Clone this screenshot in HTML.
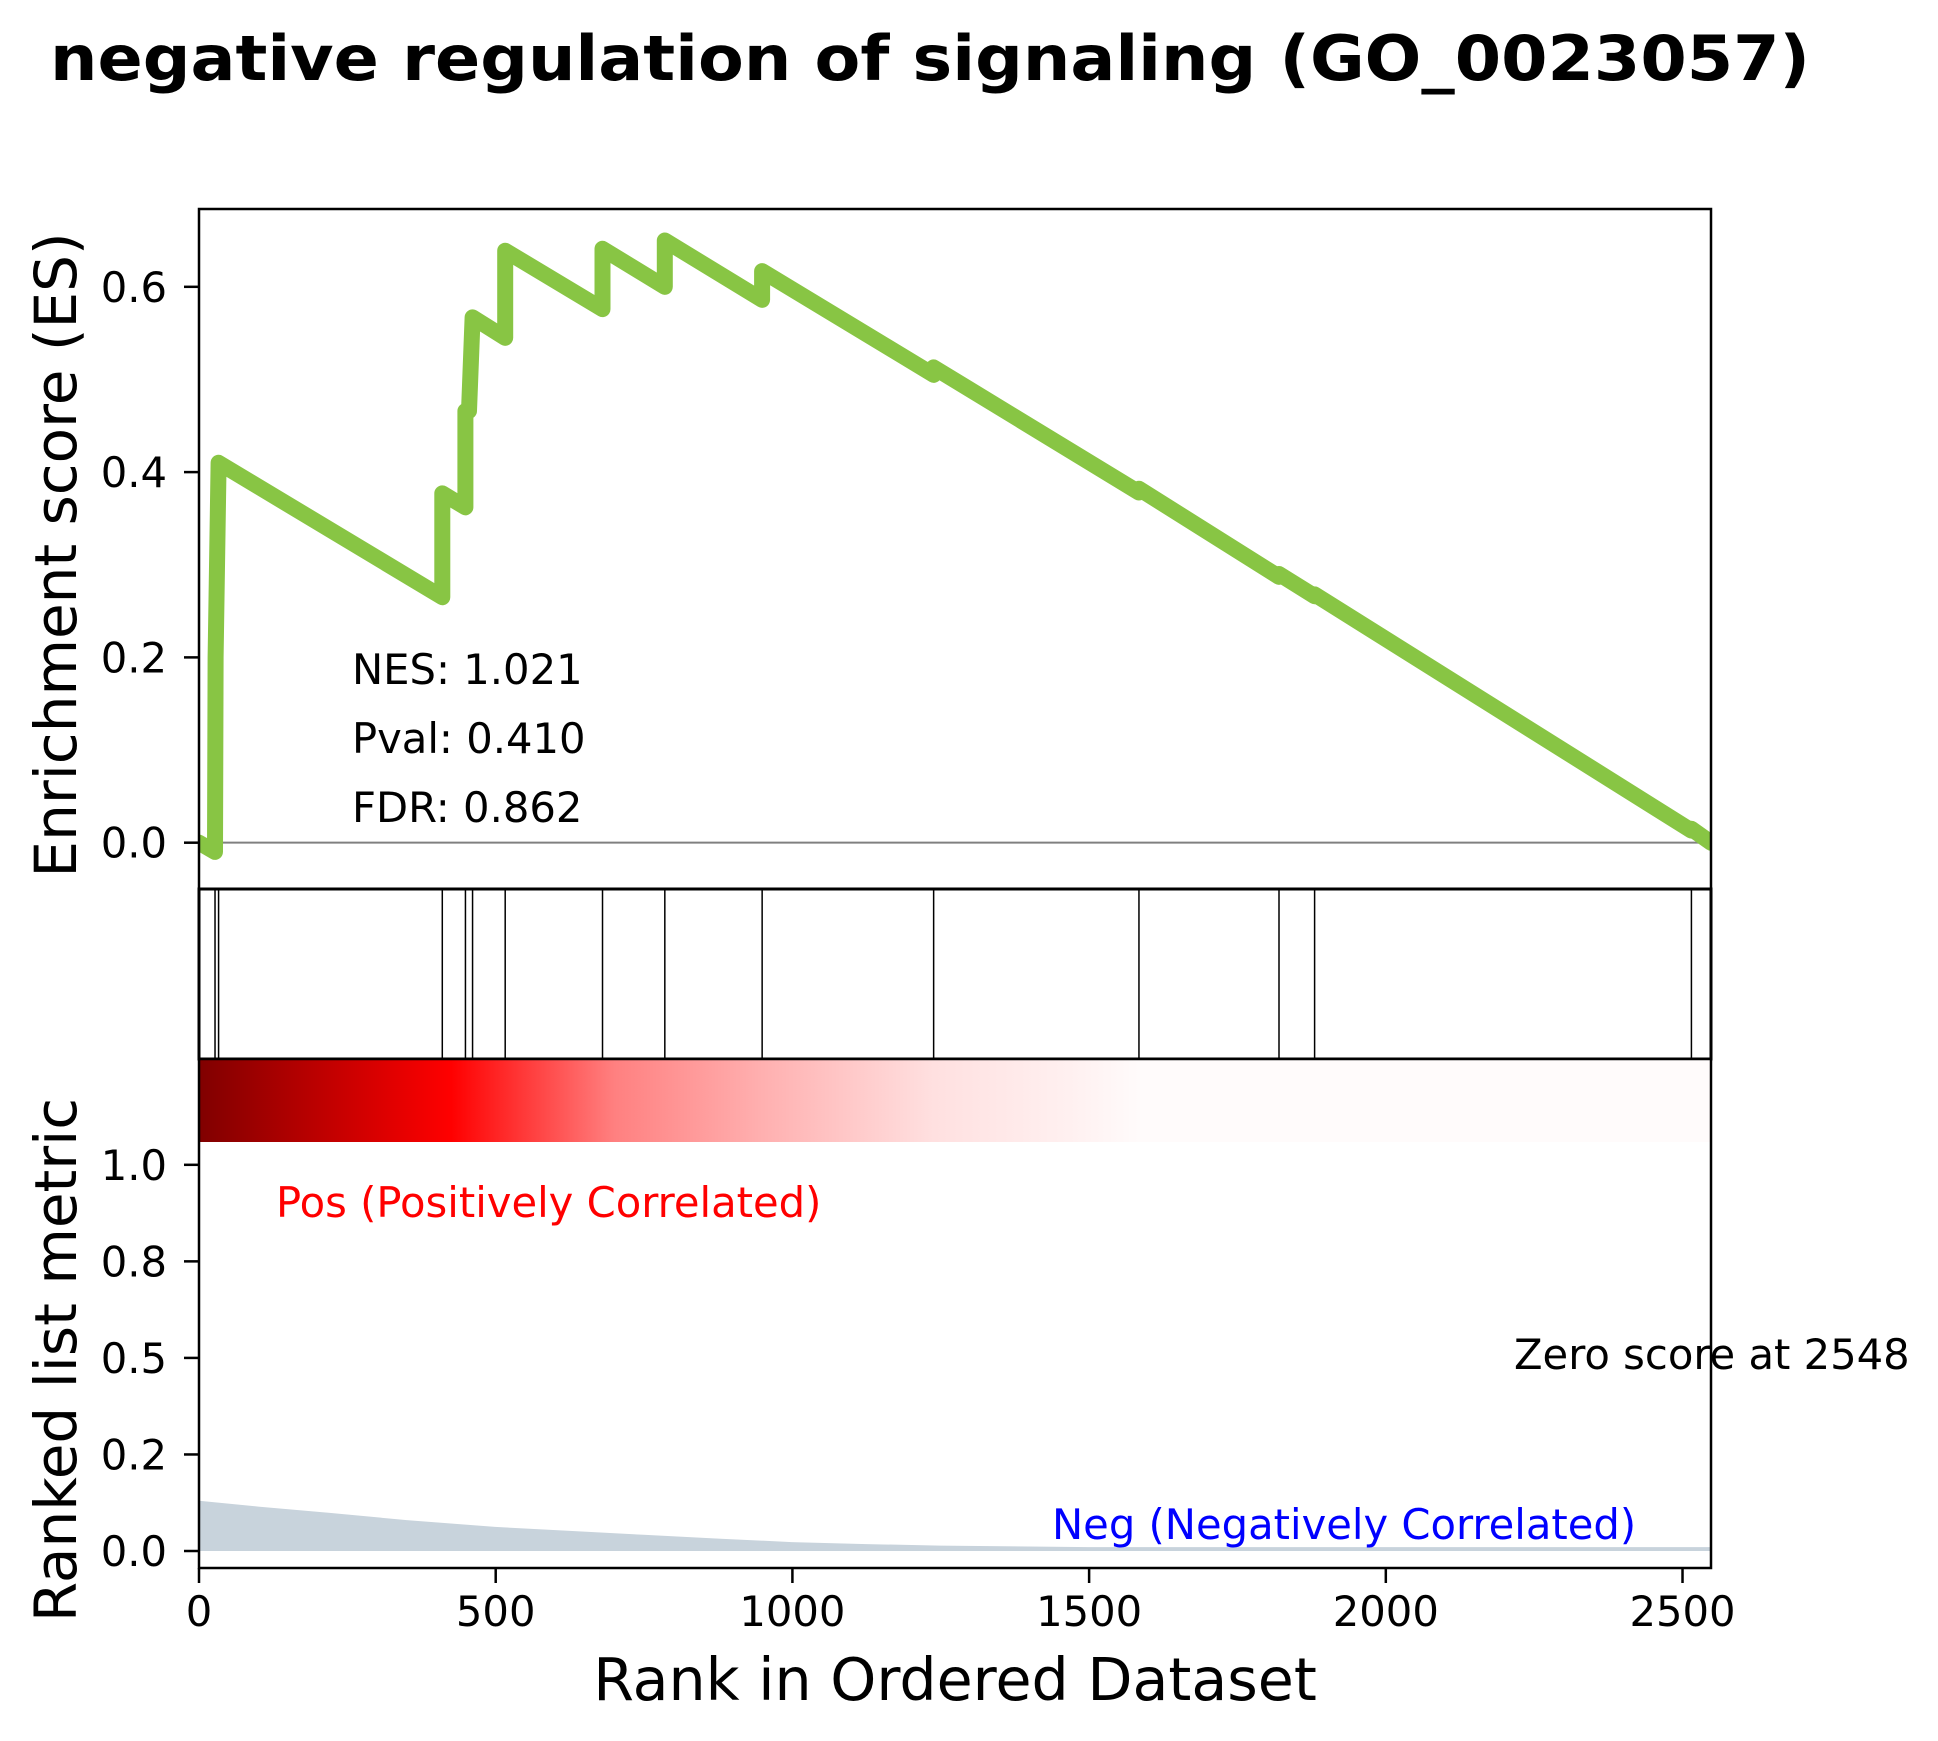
<!DOCTYPE html>
<html><head><meta charset="utf-8"><style>
html,body{margin:0;padding:0;background:#fff}
svg{display:block;font-family:"DejaVu Sans","Liberation Sans",sans-serif}
</style></head><body>
<svg id="chart" width="1938" height="1741" viewBox="0 0 1938 1741" xmlns="http://www.w3.org/2000/svg">
<text x="50" y="80" font-size="62" font-weight="bold" textLength="1760" lengthAdjust="spacingAndGlyphs">negative regulation of signaling (GO_0023057)</text>
<g id="topPanel"></g>
<g id="midPanel"></g>
<g id="botPanel"></g>
</svg>
<script>
// ---- data ----
const esRanks = [0,27,28,33,410,410,449,449,455,461,516,516,680,680,785,785,949,949,1238,1238,1584,1584,1820,1820,1880,1880,2515,2515,2548];
const esValues = [0,-0.01,0.2,0.41,0.265,0.377,0.362,0.466,0.466,0.567,0.545,0.639,0.576,0.641,0.6,0.65,0.586,0.617,0.505,0.513,0.378,0.382,0.287,0.29,0.266,0.268,0.013,0.015,0];
const hitRanks = [27,33,410,449,461,516,680,785,949,1238,1584,1820,1880,2515];
const metricRanks = [0,100,218,350,499,625,749,875,999,1125,1249,1500,2548];
const metricValues = [0.13,0.115,0.099,0.08,0.0625,0.052,0.042,0.032,0.023,0.018,0.014,0.01,0.01];
const heatRanks = [0,425,700,950,1238,1466,1584,2548];
const heatColors = ['#800000','#ff0000','#ff8080','#ffb0b0','#ffe0e0','#fff0f0','#fffbfb','#fffbfb'];
const xTicks = [0,500,1000,1500,2000,2500];
const esTicks = [0,0.2,0.4,0.6];
const esTickLabels = ['0.0','0.2','0.4','0.6'];
const metricTicks = [0,0.25,0.5,0.75,1.0];
const metricTickLabels = ['0.0','0.2','0.5','0.8','1.0'];
const stats = ['NES: 1.021','Pval: 0.410','FDR: 0.862'];
// ---- layout ----
const L=199,R=1711,xMax=2548;
const topY0=209,topY1=889,esMin=-0.05,esMax=0.684;
const midY0=889,midY1=1059;
const botY0=1059,botY1=1568,mMin=-0.044,mMax=1.274;
const FS=41.7;
const NS='http://www.w3.org/2000/svg';
const sx=r=>L+(r/xMax)*(R-L);
const yEs=v=>topY1-(v-esMin)/(esMax-esMin)*(topY1-topY0);
const yM=v=>botY1-(v-mMin)/(mMax-mMin)*(botY1-botY0);
function mk(tag,attrs,parent,txt){const e=document.createElementNS(NS,tag);for(const k in attrs)e.setAttribute(k,attrs[k]);if(txt!==undefined)e.textContent=txt;parent.appendChild(e);return e;}
const gTop=document.getElementById('topPanel'),gMid=document.getElementById('midPanel'),gBot=document.getElementById('botPanel'),svgEl=document.getElementById('chart');
// top panel
let z=mk('line',{x1:L,x2:R,y1:yEs(0),y2:yEs(0),stroke:'#808080','stroke-width':2},gTop);


let d=esRanks.map((r,i)=>(i?'L':'M')+sx(r).toFixed(1)+','+yEs(esValues[i]).toFixed(1)).join('');
const cp=mk('clipPath',{id:'clipTop'},svgEl);mk('rect',{x:L,y:topY0,width:R-L,height:topY1-topY0},cp);
let esLine=mk('path',{d:d,fill:'none',stroke:'#88c544','stroke-width':16,'stroke-linejoin':'round','stroke-linecap':'round','clip-path':'url(#clipTop)'},gTop);


esTicks.forEach((v,i)=>{
  const t=mk('line',{x1:L-15,x2:L,y1:yEs(v),y2:yEs(v),stroke:'#000','stroke-width':2.5},gTop);
  
  
  const tl=mk('text',{x:L-32,y:yEs(v)+15,'font-size':FS,'text-anchor':'end'},gTop,esTickLabels[i]);
  
  
});
stats.forEach((s,i)=>{
  const t=mk('text',{x:352,y:684+i*69,'font-size':FS},gTop,s);
  
  
});
let f=mk('rect',{x:L,y:topY0,width:R-L,height:topY1-topY0,fill:'none',stroke:'#000','stroke-width':2.5},gTop);


let yl=mk('text',{transform:'translate(76,555) rotate(-90)','font-size':58,'text-anchor':'middle'},gTop,'Enrichment score (ES)');


// middle panel
hitRanks.forEach(r=>{
  const h=mk('line',{x1:sx(r),x2:sx(r),y1:midY0,y2:midY1,stroke:'#000','stroke-width':1.5},gMid);
  
  
});
f=mk('rect',{x:L,y:midY0,width:R-L,height:midY1-midY0,fill:'none',stroke:'#000','stroke-width':3},gMid);


// bottom panel: heatmap
const defs=mk('defs',{},svgEl);
const gr=mk('linearGradient',{id:'heat',x1:0,x2:1,y1:0,y2:0},defs);
heatRanks.forEach((r,i)=>mk('stop',{offset:(r/xMax),'stop-color':heatColors[i]},gr));
let hm=mk('rect',{x:L,y:botY0,width:R-L,height:1142-botY0,fill:'url(#heat)'},gBot);


let fd='M'+sx(metricRanks[0])+','+yM(0)+metricRanks.map((r,i)=>'L'+sx(r).toFixed(1)+','+yM(metricValues[i]).toFixed(1)).join('')+'L'+sx(metricRanks[metricRanks.length-1])+','+yM(0)+'Z';
let fa=mk('path',{d:fd,fill:'#c8d3dc'},gBot);


metricTicks.forEach((v,i)=>{
  const t=mk('line',{x1:L-15,x2:L,y1:yM(v),y2:yM(v),stroke:'#000','stroke-width':2.5},gBot);
  
  
  const tl=mk('text',{x:L-32,y:yM(v)+15,'font-size':FS,'text-anchor':'end'},gBot,metricTickLabels[i]);
  
  
});
xTicks.forEach(v=>{
  const t=mk('line',{x1:sx(v),x2:sx(v),y1:botY1,y2:botY1+15,stroke:'#000','stroke-width':2.5},gBot);
  
  
  const tl=mk('text',{x:sx(v),y:botY1+58,'font-size':FS,'text-anchor':'middle'},gBot,String(v));
  
  
});
f=mk('rect',{x:L,y:botY0,width:R-L,height:botY1-botY0,fill:'none',stroke:'#000','stroke-width':2.5},gBot);


let p=mk('text',{x:276,y:1217,'font-size':FS,fill:'#ff0000'},gBot,'Pos (Positively Correlated)');


let n=mk('text',{x:1052,y:1539,'font-size':FS,fill:'#0000ff'},gBot,'Neg (Negatively Correlated)');


let zs=mk('text',{x:1514,y:1369,'font-size':FS},gBot,'Zero score at 2548');


let yl2=mk('text',{transform:'translate(76,1360) rotate(-90)','font-size':58,'text-anchor':'middle'},gBot,'Ranked list metric');


let xl=mk('text',{x:955,y:1700,'font-size':58.6,'text-anchor':'middle'},gBot,'Rank in Ordered Dataset');


</script>
</body></html>
